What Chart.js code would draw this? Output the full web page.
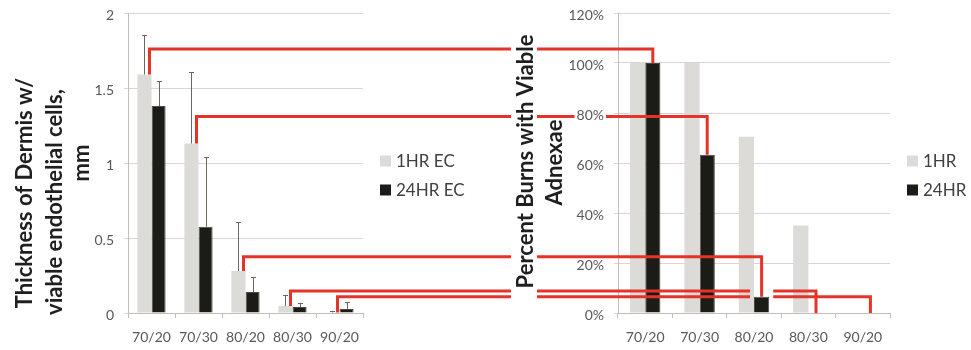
<!doctype html>
<html>
<head>
<title>Dermis thickness and viable adnexae</title>
<script src="https://cdn.jsdelivr.net/npm/chart.js@4.4.1/dist/chart.umd.min.js"></script>
<style>
  body { margin: 0; background: #fff; }
  #wrap { position: relative; width: 971px; height: 350px; }
  canvas { position: absolute; top: 0; }
</style>
</head>
<body>
<div id="wrap">
  <canvas id="leftChart" width="490" height="350" style="left:0"></canvas>
  <canvas id="rightChart" width="481" height="350" style="left:490px"></canvas>
  <canvas id="links" width="971" height="350" style="left:0;pointer-events:none"></canvas>
</div>
<script>
  // burn groups (temperature / seconds)
  const groups = ['70/20', '70/30', '80/20', '80/30', '90/20'];

  // left: thickness of dermis with viable endothelial cells, mm
  const thick1hr = [1.59, 1.13, 0.28, 0.047, 0.004];
  const thick24hr = [1.38, 0.575, 0.14, 0.04, 0.027];
  const thickErr1hr = [0.26, 0.48, 0.325, 0.073, 0.009];
  const thickErr24hr = [0.17, 0.465, 0.10, 0.03, 0.048];

  // right: percent burns with viable adnexae
  const adnexae1hr = [100, 100, 70.5, 35, 0];
  const adnexae24hr = [100, 63.3, 6.5, 0, 0];

  // height of each red connector, in left axis units
  const linkLevel = [1.76, 1.31, 0.375, 0.147, 0.109];

  const LIGHT = '#dcdbd7';
  const DARK = '#1c1c17';
  const TICK = '#595959';
  const RIGHT_OFFSET = 490;

  Chart.defaults.font.family = 'Lato';

  const leftTitle = [
    { text: 'Thickness of Dermis w/', x: 32, y: 193 },
    { text: 'viable endothelial cells,', x: 62, y: 202 },
    { text: 'mm', x: 88.5, y: 163 }
  ];
  const rightTitle = [
    { text: 'Percent Burns with Viable', x: 43, y: 161.5 },
    { text: 'Adnexae', x: 71.7, y: 162.5 }
  ];

  // axis titles, legend and error bars drawn on top of each chart
  function decor(titleLines, legendLabels, errors) {
    return {
      id: 'decor',
      afterDatasetsDraw(chart) {
        const ctx = chart.ctx;
        const y = chart.scales.y;
        ctx.save();
        if (errors) {
          ctx.strokeStyle = '#6e6560';
          ctx.lineWidth = 1;
          errors.forEach((errs, d) => {
            const bars = chart.getDatasetMeta(d).data;
            const vals = chart.data.datasets[d].data;
            bars.forEach((b, i) => {
              const x = Math.round(b.x) + 0.5;
              const top = Math.round(y.getPixelForValue(vals[i] + errs[i])) + 0.5;
              ctx.beginPath();
              ctx.moveTo(x, b.y);
              ctx.lineTo(x, top);
              ctx.moveTo(x - 2.5, top);
              ctx.lineTo(x + 2.5, top);
              ctx.stroke();
            });
          });
        }
        ctx.restore();
      },
      afterDraw(chart) {
        const ctx = chart.ctx;
        const area = chart.chartArea;
        ctx.save();
        ctx.fillStyle = '#1f1f1f';
        ctx.font = 'bold 22px Lato';
        ctx.textAlign = 'center';
        ctx.textBaseline = 'alphabetic';
        titleLines.forEach(t => {
          ctx.save();
          ctx.translate(t.x, t.y);
          ctx.rotate(-Math.PI / 2);
          ctx.fillText(t.text, 0, 0);
          ctx.restore();
        });
        ctx.font = '17px Lato';
        ctx.textAlign = 'left';
        ctx.textBaseline = 'middle';
        [161, 190].forEach((ly, i) => {
          ctx.fillStyle = chart.data.datasets[i].backgroundColor;
          ctx.fillRect(area.right + 17, ly - 5.5, 11, 11);
          ctx.fillStyle = '#404040';
          ctx.fillText(legendLabels[i], area.right + 33, ly + 1);
        });
        ctx.restore();
      }
    };
  }

  function scalesFor(yMin, yMax, step, fmt) {
    return {
      x: {
        grid: { drawOnChartArea: false, offset: true, tickLength: 5, color: '#c4bcb8' },
        border: { color: '#c4bcb8' },
        ticks: { color: TICK, font: { size: 14 }, padding: 11 },
        afterFit(s) { s.height = 37; }
      },
      y: {
        min: yMin,
        max: yMax,
        ticks: { stepSize: step, color: TICK, font: { size: 14 }, padding: 10, labelOffset: 2, callback: fmt },
        grid: { color: '#dad5d2', tickLength: 4 },
        border: { color: '#c4bcb8' },
        afterFit(s) {
          s.width = 128;
          s.paddingTop = 0;
          s.paddingBottom = 0;
        }
      }
    };
  }

  const barLook = {
    barPercentage: 1,
    borderSkipped: 'start'
  };

  const left = new Chart(document.getElementById('leftChart'), {
    type: 'bar',
    data: {
      labels: groups,
      datasets: [
        Object.assign({ label: '1HR EC', data: thick1hr, backgroundColor: LIGHT, categoryPercentage: 0.6 }, barLook),
        Object.assign({ label: '24HR EC', data: thick24hr, backgroundColor: DARK, borderColor: '#4a4843', borderWidth: 1, categoryPercentage: 0.6 }, barLook)
      ]
    },
    options: {
      responsive: false,
      animation: false,
      devicePixelRatio: 1,
      layout: { padding: { top: 13, right: 127, left: 0, bottom: 0 } },
      plugins: { legend: { display: false }, tooltip: { enabled: false } },
      scales: scalesFor(0, 2, 0.5, v => v)
    },
    plugins: [decor(leftTitle, ['1HR EC', '24HR EC'], [thickErr1hr, thickErr24hr])]
  });

  const right = new Chart(document.getElementById('rightChart'), {
    type: 'bar',
    data: {
      labels: groups,
      datasets: [
        Object.assign({ label: '1HR', data: adnexae1hr, backgroundColor: LIGHT, categoryPercentage: 0.56 }, barLook),
        Object.assign({ label: '24HR', data: adnexae24hr, backgroundColor: DARK, borderColor: '#4a4843', borderWidth: 1, categoryPercentage: 0.56 }, barLook)
      ]
    },
    options: {
      responsive: false,
      animation: false,
      devicePixelRatio: 1,
      layout: { padding: { top: 13, right: 81, left: 0, bottom: 0 } },
      plugins: { legend: { display: false }, tooltip: { enabled: false } },
      scales: scalesFor(0, 120, 20, v => v + '%')
    },
    plugins: [decor(rightTitle, ['1HR', '24HR'], null)]
  });

  // red connectors from the 1HR thickness bars to the 24HR adnexae bars
  function drawLinks() {
    const ctx = document.getElementById('links').getContext('2d');
    const ly = left.scales.y;
    const ry = right.scales.y;
    const lBars = left.getDatasetMeta(0).data;
    const rBars = right.getDatasetMeta(1).data;
    const titleGap = [RIGHT_OFFSET + rightTitle[0].x - 22, RIGHT_OFFSET + rightTitle[0].x + 4];
    const labelRight = RIGHT_OFFSET + ry.right - 4 - 10;

    ctx.font = '14px Lato';
    ctx.strokeStyle = '#e5332a';
    ctx.lineWidth = 3;
    ctx.lineJoin = 'miter';
    ctx.lineCap = 'butt';

    groups.forEach((g, i) => {
      const x1 = lBars[i].x + lBars[i].width / 2 - 2;
      const y1 = lBars[i].y;
      const yh = ly.getPixelForValue(linkLevel[i]);
      const x2 = RIGHT_OFFSET + rBars[i].x;
      const y2 = rBars[i].y;

      const gaps = [titleGap];
      ry.ticks.forEach(t => {
        const cy = ry.getPixelForValue(t.value) + 2;
        if (Math.abs(cy - yh) < 6) {
          const w = ctx.measureText(t.label).width;
          gaps.push([labelRight - w - 2, labelRight + 2]);
        }
      });
      rBars.forEach(b => {
        const bx = RIGHT_OFFSET + b.x;
        const dy = b.y - yh;
        if (bx < x2 - 1 && dy > -2 && dy < 10) {
          gaps.push([bx - b.width / 2 - 4, bx + b.width / 2 + 4]);
        }
      });

      const segs = [];
      let cur = x1;
      gaps.filter(gp => gp[1] > x1 && gp[0] < x2)
        .sort((a, b) => a[0] - b[0])
        .forEach(gp => { segs.push([cur, gp[0]]); cur = gp[1]; });
      segs.push([cur, x2]);

      segs.forEach((s, k) => {
        ctx.beginPath();
        if (k === 0) {
          ctx.moveTo(x1, y1);
          ctx.lineTo(x1, yh);
        } else {
          ctx.moveTo(s[0], yh);
        }
        ctx.lineTo(s[1], yh);
        if (k === segs.length - 1) ctx.lineTo(x2, y2);
        ctx.stroke();
      });
    });
  }

  drawLinks();
</script>
</body>
</html>
